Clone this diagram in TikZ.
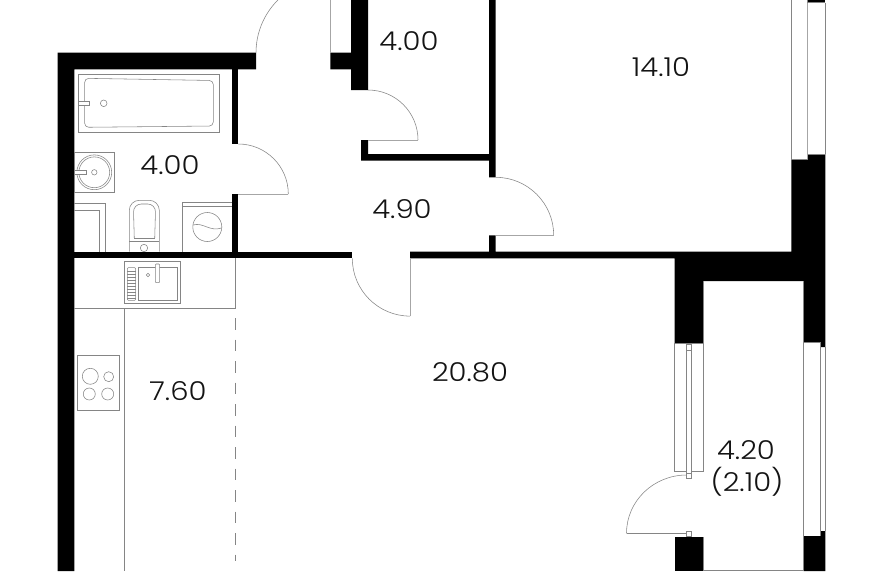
\documentclass[tikz,border=0pt]{standalone}
\usepackage{fontspec}
\setmainfont[FakeStretch=1.12]{Poppins Light}
\tikzset{
 wallfill/.style={fill=black,draw=none},
 thin line/.style={draw=black!48,line width=0.55pt,fill=none},
 leaf/.style={draw=black!35,line width=0.9pt},
 area/.style={font=\fontsize{26}{26}\selectfont,text=black!92,inner sep=0pt,anchor=center}
}
\begin{document}
\begin{tikzpicture}[x=1pt,y=-1pt]
\useasboundingbox (0,0) rectangle (883,571);
\fill[white] (0,0) rectangle (883,571);
\begin{scope}
\clip (0,0) rectangle (883,571);
% walls
\fill[wallfill] (57.7,571)--(57.7,52.7)--(256,52.7)--(256,69.3)--(74.3,69.3)--(74.3,571)--cycle;
\fill[wallfill] (231.7,69.3) rectangle (238.3,144);
\fill[wallfill] (231.7,194) rectangle (238.3,252);
\fill[wallfill] (74.3,251.5) rectangle (352.3,258.3);
\fill[wallfill] (410,251.7)--(489,251.7)--(489,235.3)--(495.7,235.3)--(495.7,251.7)--(791.3,251.7)--(791.3,159.3)--(807.7,159.3)--(807.7,154)--(825.3,154)--(825.3,347)--(820,347)--(820,342)--(803.5,342)--(803.5,281)--(703.5,281)--(703.5,343)--(674.5,343)--(674.5,258.3)--(410,258.3)--cycle;
\fill[wallfill] (330.3,52.7)--(351,52.7)--(351,0)--(368,0)--(368,90)--(351,90)--(351,69.3)--(330.3,69.3)--cycle;
\fill[wallfill] (361,140)--(368,140)--(368,154)--(489,154)--(489,0)--(495.7,0)--(495.7,177.3)--(489,177.3)--(489,160.7)--(361,160.7)--cycle;
\fill[wallfill] (808,0) rectangle (825.3,2.5);
\fill[wallfill] (674.5,537.3) rectangle (703.5,571);
\fill[wallfill] (803.5,536)--(820,536)--(820,531)--(825.3,531)--(825.3,571)--(803.5,571)--cycle;
% doors
\draw[thin line] (256,52.7) arc[start angle=180,end angle=225.2,radius=74.3];
\draw[leaf] (330.3,0)--(330.3,52.7);
\draw[thin line] (368,90) arc[start angle=-90,end angle=0,radius=50];
\draw[leaf] (418,140)--(368,140);
\draw[thin line] (238.3,144) arc[start angle=-90,end angle=0,radius=50];
\draw[leaf] (288.3,194)--(238.3,194);
\draw[thin line] (495.7,177.3) arc[start angle=-90,end angle=0,radius=58];
\draw[leaf] (553.7,235.3)--(495.7,235.3);
\draw[thin line] (352.3,258.3) arc[start angle=180,end angle=90,radius=57.8];
\draw[leaf] (410,258.3)--(410,316);
% windows east
\draw[thin line] (791.3,0)--(791.3,159.3)--(807.7,159.3);
\draw[leaf] (807.7,2.5)--(807.7,154);
\draw[thin line] (807.7,2.5)--(825.3,2.5);
\draw[thin line] (825.3,2.5)--(825.3,154);
\draw[thin line] (807.7,154)--(825.3,154);
\draw[thin line] (807.7,0)--(807.7,2.5);
% balcony
\draw[thin line] (674.5,343) rectangle (703.5,471.3);
\draw[fill=white,draw=black!48,line width=0.5pt] (686.7,344) rectangle (691,350);
\draw[fill=white,draw=black!48,line width=0.5pt] (686.7,350) rectangle (691,473);
\draw[fill=white,draw=black!48,line width=0.5pt] (686.7,473) rectangle (691,478.7);
\draw[fill=white,draw=black!48,line width=0.5pt] (686.7,531) rectangle (691,536);
\draw[thin line] (686.7,475) arc[start angle=-90,end angle=-180,x radius=60.2,y radius=58.3];
\draw[thin line] (626.5,533.3)--(686.7,533.3);
\draw[thin line] (803.5,281)--(803.5,571);
\draw[thin line] (820,342)--(820,536);
\draw[thin line] (803.5,342)--(820,342);
\draw[thin line] (825.3,347)--(825.3,531);
\draw[thin line] (703.5,281)--(703.5,343);
\draw[thin line] (703.5,537.3)--(703.5,571);
\draw[thin line] (703.5,570)--(803.5,570);
% bath
\draw[thin line] (78.3,74.3) rectangle (219.7,132.3);
\draw[thin line,rounded corners=4pt] (84.7,78.3)--(213.3,80.5)--(213.3,126)--(84.7,127.3)--cycle;
\draw[fill=white,draw=black!48,line width=0.55pt] (78.3,101) rectangle (89.7,105.7);
\draw[thin line] (103.7,103.3) circle[radius=3.3];
% basin
\draw[thin line] (74.3,152.3) rectangle (114.3,192.7);
\draw[thin line] (94.3,172.3) circle[radius=17.4];
\draw[thin line] (94.3,172.3) circle[radius=15.4];
\draw[thin line] (94.3,172.3) circle[radius=2.7];
\draw[fill=white,draw=black!48,line width=0.55pt] (74.3,170.3) rectangle (86.7,174);
% cabinet
\draw[thin line] (74.3,203.3)--(105.7,203.3)--(105.7,251.5);
\draw[thin line] (74.3,210)--(99.7,210)--(99.7,251.5);
% toilet
\draw[thin line,rounded corners=10pt] (129.3,251.5)--(129.3,200.3)--(159.3,200.3)--(159.3,251.5);
\draw[thin line] (129.3,241.7)--(159.3,241.7);
\draw[thin line,rounded corners=8pt] (134.3,238.7)--(133.3,204)--(155.7,204)--(154.7,238.7);
\draw[thin line] (134.3,238.7)--(154.7,238.7);
\draw[thin line] (144,248) circle[radius=3.7];
% washer
\draw[thin line] (231.7,202.3)--(182,202.3)--(182,251.5);
\draw[thin line] (182,206)--(231.7,206);
\draw[thin line] (207.3,227) circle[radius=14.5];
\draw[thin line] (193,225) .. controls (203,222) and (210,232) .. (221.5,228);
% kitchen
\draw[thin line] (74.3,308.3)--(235.3,308.3)--(235.3,258.3);
\draw[thin line] (124,308.3)--(124,571);
\draw[thin line,dash pattern=on 11.5pt off 10pt] (235.3,318)--(235.3,561);
% sink
\draw[thin line] (124,261.3) rectangle (180,303.3);
\draw[thin line] (138.3,267.7) rectangle (177,300.3);
\draw[thin line,rounded corners=1pt] (127.3,267.7) rectangle (135.7,300.3);
\foreach \yy in {271,274,277,280,283,286,289,292,295,298}{\draw[draw=black!48,line width=0.4pt] (127.3,\yy)--(135.7,\yy);}
\draw[fill=white,draw=black!48,line width=0.55pt,rounded corners=1pt] (155.3,264) rectangle (159.7,282.7);
\draw[thin line] (148,275) circle[radius=1.7];
% hob
\draw[thin line] (77.3,355) rectangle (119.7,410.7);
\draw[thin line] (90.3,376.3) circle[radius=8];
\draw[thin line] (108.7,376.7) circle[radius=5];
\draw[thin line] (89.3,394) circle[radius=6];
\draw[thin line] (107.7,394) circle[radius=6];
\end{scope}
% labels
\node[area] (bath) at (170,165) {4.00};
\node[area] (store) at (409,41) {4.00};
\node[area] (bed) at (661,67) {14.10};
\node[area] (hall) at (402,209) {4.90};
\node[area] (living) at (470,372) {20.80};
\node[area] (kitchen) at (178,391.5) {7.60};
\node[area] (balcony) at (746,450) {4.20};
\node[area] (balconyb) at (747,481.5) {(2.10)};
\end{tikzpicture}
\end{document}
